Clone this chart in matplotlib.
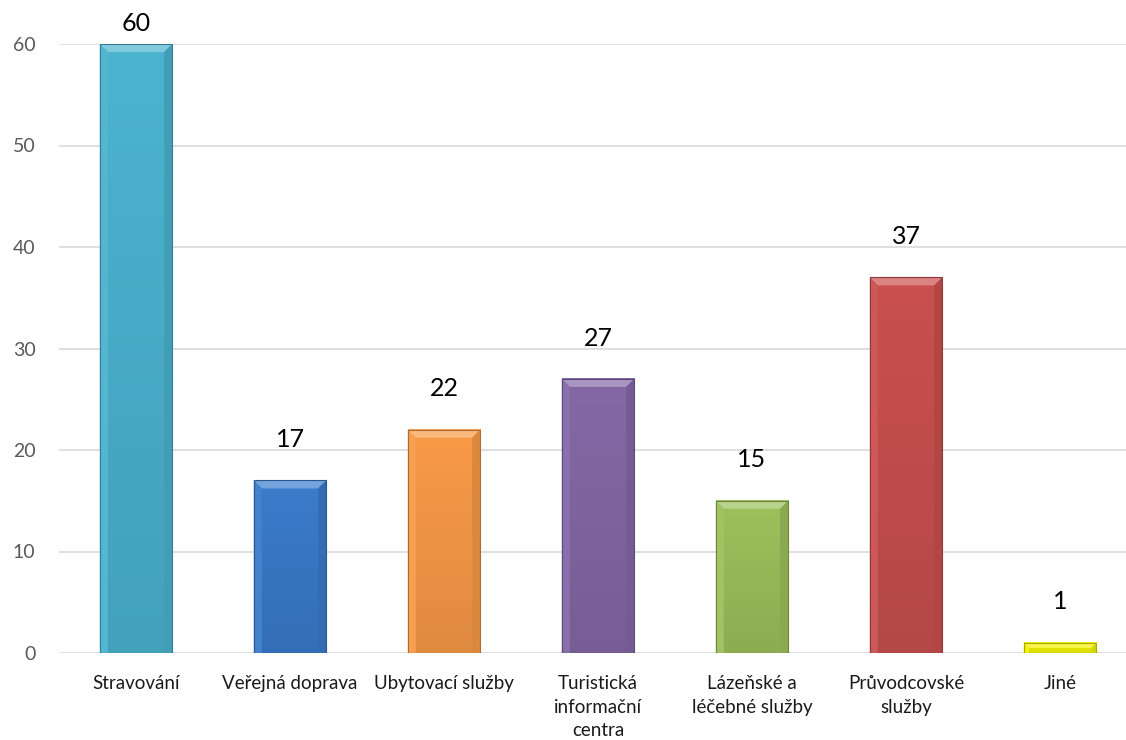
import numpy as np
import matplotlib
matplotlib.use('Agg')
import matplotlib.pyplot as plt
import matplotlib.colors as mcolors
from matplotlib.patches import Polygon

plt.rcParams['font.family'] = ['Lato', 'DejaVu Sans']

kategorie = ['Stravování', 'Veřejná doprava', 'Ubytovací služby',
             'Turistická\ninformační\ncentra', 'Lázeňské a\nléčebné služby',
             'Průvodcovské\nslužby', 'Jiné']
hodnoty = [60, 17, 22, 27, 15, 37, 1]
barvy = ['#4BB3D0', '#3A7BCB', '#F99A48', '#8468A6', '#9DC05B', '#C9504E', '#F2F200']

fig = plt.figure(figsize=(11.26, 7.4), dpi=100)
ax = fig.add_axes([59 / 1126, 87 / 740, 1078 / 1126, 609 / 740])

x = np.arange(len(hodnoty))
sirka = 0.47
ax.set_xlim(-0.5, len(hodnoty) - 0.5)
ax.set_ylim(0, 60)

def svetlejsi(c, f):
    c = np.array(mcolors.to_rgb(c))
    return tuple(c + (1 - c) * f)

def tmavsi(c, f):
    c = np.array(mcolors.to_rgb(c))
    return tuple(c * (1 - f))

# bevel velikost v datech (~8 px)
bx = 8 / 154
by = 8 / 609 * 60

for xi, h, c in zip(x, hodnoty, barvy):
    l, r = xi - sirka / 2, xi + sirka / 2
    # gradient tela sloupce
    grad = np.linspace(0, 1, 50).reshape(-1, 1)
    cm = mcolors.LinearSegmentedColormap.from_list('g', [tmavsi(c, 0.1), c])
    ax.imshow(grad, extent=[l, r, 0, h], origin='lower', aspect='auto', cmap=cm, zorder=2)
    b = min(by, h / 2)
    bxx = bx * b / by
    # horni hrana
    ax.add_patch(Polygon([(l, h), (r, h), (r - bxx, h - b), (l + bxx, h - b)],
                         closed=True, fc=svetlejsi(c, 0.3), ec='none', zorder=3))
    # leva hrana
    ax.add_patch(Polygon([(l, 0), (l, h), (l + bxx, h - b), (l + bxx, 0)],
                         closed=True, fc=svetlejsi(c, 0.05), ec='none', zorder=3))
    # prava hrana
    ax.add_patch(Polygon([(r, 0), (r, h), (r - bxx, h - b), (r - bxx, 0)],
                         closed=True, fc=tmavsi(c, 0.12), ec='none', zorder=3))
    ax.add_patch(plt.Rectangle((l, 0), sirka, h, fc='none', ec=tmavsi(c, 0.3), lw=0.8, zorder=4))
    ax.text(xi, min(h + 2.9, 60.9), str(h), ha='center', va='bottom', fontsize=18,
            color='black', clip_on=False)

ax.set_xticks(x)
ax.set_xticklabels(kategorie, fontsize=13.5, color='#1a1a1a', linespacing=1.45, va='top')
ax.tick_params(axis='x', length=0, pad=16)
ax.set_yticks(range(0, 61, 10))
ax.tick_params(axis='y', length=0, labelsize=14, labelcolor='#595959', pad=17)

ax.grid(axis='y', color='#D9D9D9', lw=1.2, zorder=0)
ax.set_axisbelow(True)
for s in ax.spines.values():
    s.set_visible(False)

fig.savefig('out.png', dpi=100)
